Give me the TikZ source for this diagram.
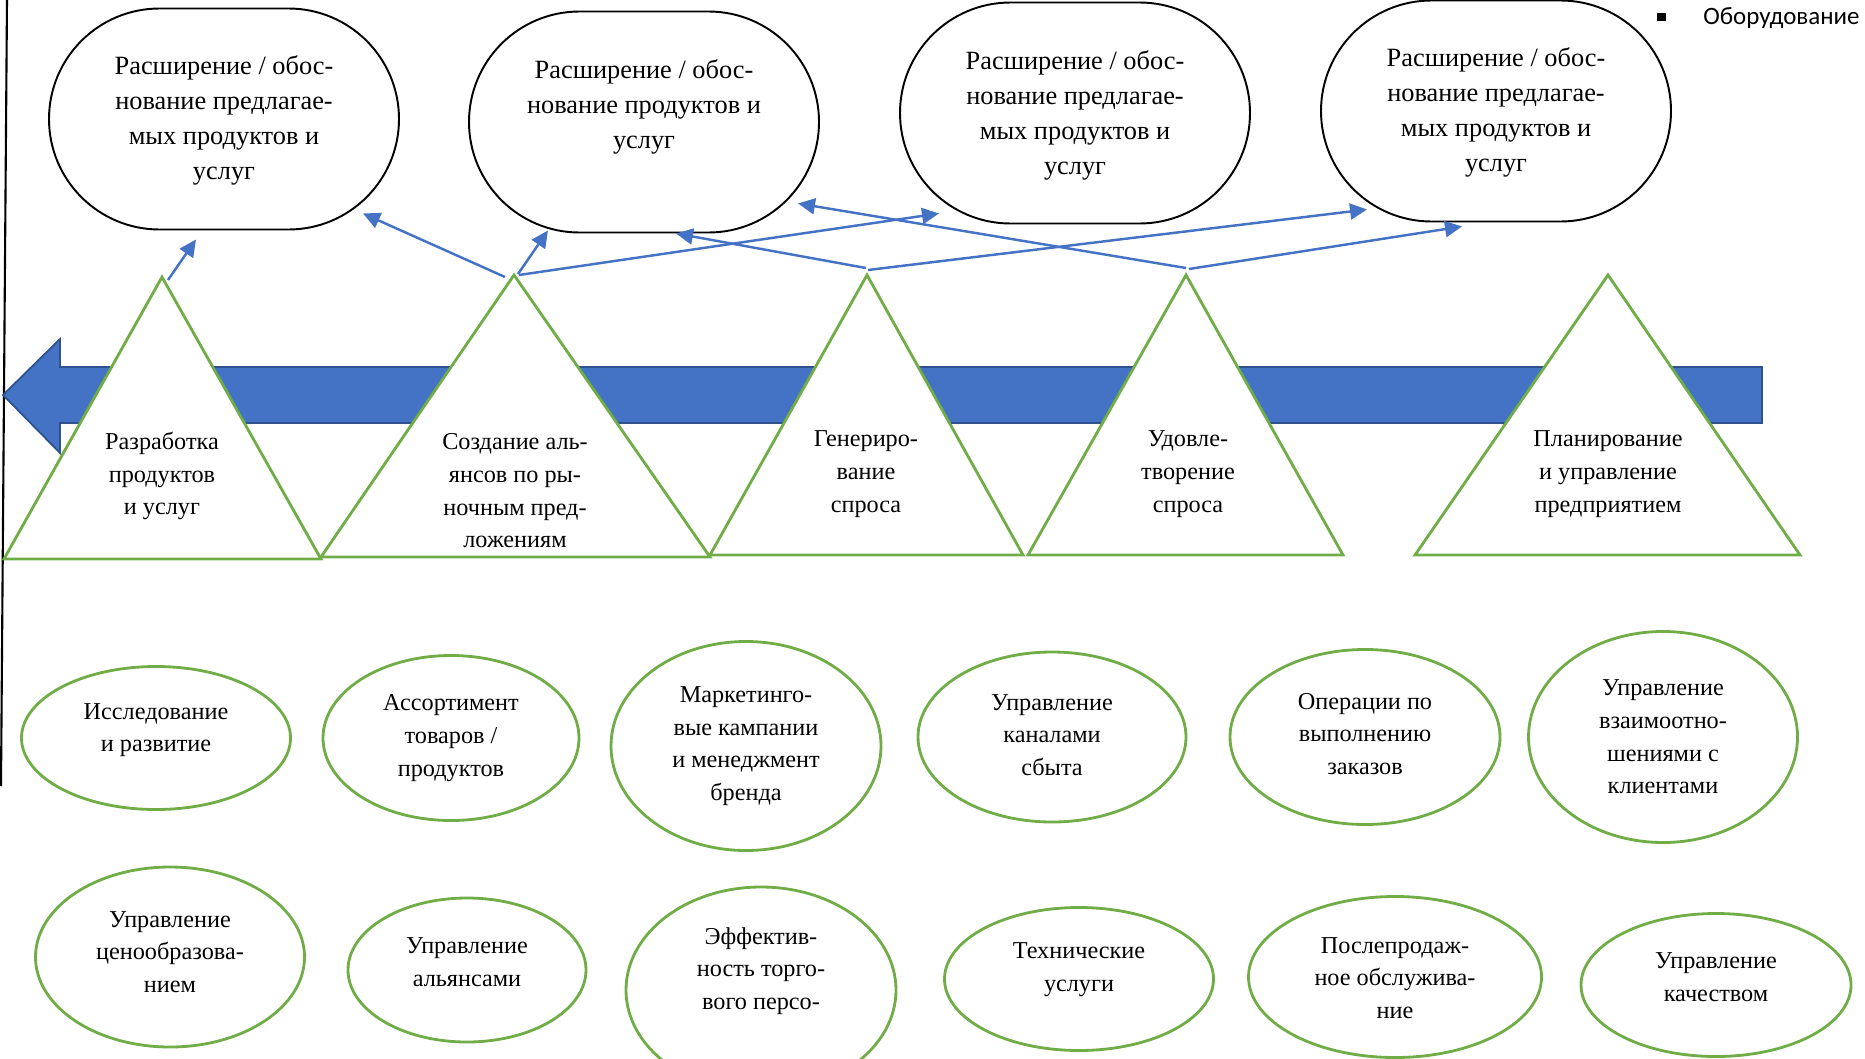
\documentclass[tikz,border=0pt]{standalone}
\usepackage{fontspec}
\setmainfont{Liberation Serif}
\newfontfamily\legendfont{Carlito}
\usetikzlibrary{arrows.meta,shapes.geometric,shapes.misc}
\definecolor{accgreen}{HTML}{70AD47}
\definecolor{accblue}{HTML}{4472C4}
\definecolor{darkblue}{HTML}{2F528F}

\begin{document}
\begin{tikzpicture}[x=0.02cm, y=-0.02cm, >={Triangle[length=0.34cm,width=0.32cm]},
  topbox/.style={draw, line width=1.1pt, rounded rectangle, inner sep=0},
  oval/.style={draw=accgreen, line width=1.6pt, ellipse, inner sep=0},
  tri/.style={draw=accgreen, line width=1.6pt, fill=white},
  lbl/.style={align=center, font=\fontsize{13.8}{18.6}\selectfont, inner sep=0},
  toplbl/.style={align=center, font=\fontsize{15}{19.9}\selectfont, inner sep=0},
  link/.style={->, accblue, line width=1.4pt}]
  \clip (0,0) rectangle (1865,1058);

  % frame line on the left
  \draw[line width=1.2pt] (7,0) -- (1,786);

  % legend
  \node[fill, inner sep=0, minimum width=9*0.02cm, minimum height=8*0.02cm] (bullet) at (1661,17) {};
  \node[anchor=west, inner sep=0, font=\legendfont\fontsize{14.2}{17}\selectfont] (equip) at (1703,18) {Оборудование};

  % big arrow
  \draw[fill=accblue, draw=darkblue, line width=1pt] (1762,367) -- (60,367) -- (60,339) -- (3,395)
    -- (60,453) -- (60,423) -- (1762,423) -- cycle;

  % top boxes
  \foreach \n/\x/\y/\ty/\t in {
    o1/224/119/120/{Расширение / обос-\\нование предлагае-\\мых продуктов и\\услуг},
    o2/644/122/107/{Расширение / обос-\\нование продуктов и\\услуг},
    o3/1075/113/115/{Расширение / обос-\\нование предлагае-\\мых продуктов и\\услуг},
    o4/1496/111/112/{Расширение / обос-\\нование предлагае-\\мых продуктов и\\услуг}}
  {
    \node[topbox, minimum width=350*0.02cm, minimum height=221*0.02cm] (\n) at (\x,\y) {};
    \node[toplbl] (\n-txt) at (\x,\ty) {\t};
  }

  % triangles
  \coordinate (t1) at (162,277);
  \coordinate (t2) at (514,275);
  \coordinate (t3) at (867,275);
  \coordinate (t4) at (1186,275);
  \coordinate (t5) at (1608,275);
  \draw[tri] (t1) -- (321,559) -- (4,559) -- cycle;
  \draw[tri] (t2) -- (710,557) -- (321,557) -- cycle;
  \draw[tri] (t3) -- (1023,555) -- (710,555) -- cycle;
  \draw[tri] (t4) -- (1343,555) -- (1028,555) -- cycle;
  \draw[tri] (t5) -- (1800,555) -- (1415,555) -- cycle;
  \node[lbl] (t1-txt) at (162,476) {Разработка\\продуктов\\и услуг};
  \node[lbl] (t2-txt) at (515,491) {Создание аль-\\янсов по ры-\\ночным пред-\\ложениям};
  \node[lbl] (t3-txt) at (866,474) {Генериро-\\вание\\спроса};
  \node[lbl] (t4-txt) at (1188,474) {Удовле-\\творение\\спроса};
  \node[lbl] (t5-txt) at (1608,474) {Планирование\\и управление\\предприятием};

  % links
  \draw[link] ([shift={(6,3)}]t1) -- ([shift={(-28,9)}]o1.south);
  \draw[link] ([shift={(-9,2)}]t2) -- ([shift={(139,-17)}]o1.south);
  \draw[link] ([shift={(4,-1)}]t2) -- ([shift={(-96,-3)}]o2.south);
  \draw[link] ([shift={(5,0)}]t2) -- ([shift={(-136,-11)}]o3.south);
  \draw[link] ([shift={(-1,-7)}]t3) -- ([shift={(32,0)}]o2.south);
  \draw[link] ([shift={(1,-5)}]t3) -- ([shift={(-129,-13)}]o4.south);
  \draw[link] ([shift={(0,-7)}]t4) -- ([shift={(154,-30)}]o2.south);
  \draw[link] ([shift={(3,-6)}]t4) -- ([shift={(-34,4)}]o4.south);

  % functions
  \foreach \n/\x/\y/\w/\h/\ty/\t in {
    b1/156/738/269/143/730/{Исследование\\и развитие},
    b2/451/738/256/165/738/{Ассортимент\\товаров /\\продуктов},
    b3/746/746/270/209/746/{Маркетинго-\\вые кампании\\и менеджмент\\бренда},
    b4/1052/737/268/170/735/{Управление\\каналами\\сбыта},
    b5/1365/737/270/175/734/{Операции по\\выполнению\\заказов},
    b6/1663/737/269/211/737/{Управление\\взаимоотно-\\шениями с\\клиентами},
    c1/170/957/269/180/952/{Управление\\ценообразова-\\нием},
    c2/467/970/238/144/962/{Управление\\альянсами},
    c3/761/990/270/206/971/{Эффектив-\\ность торго-\\вого персо-},
    c4/1079/979/269/143/970/{Технические\\услуги},
    c5/1395/977/293/161/978/{Послепродаж-\\ное обслужива-\\ние},
    c6/1716/985/270/143/977/{Управление\\качеством}}
  {
    \node[oval, minimum width=\w*0.02cm, minimum height=\h*0.02cm] (\n) at (\x,\y) {};
    \node[lbl] (\n-txt) at (\x,\ty) {\t};
  }
\end{tikzpicture}
\end{document}
